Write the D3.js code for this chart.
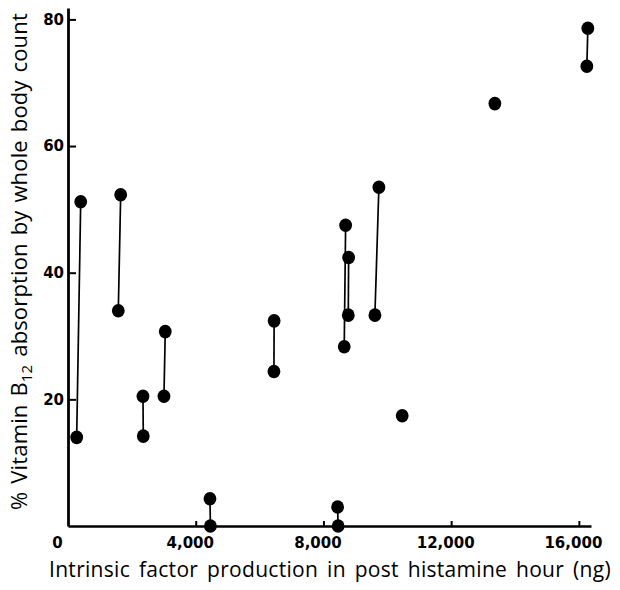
<!DOCTYPE html>
<html>
<head>
<meta charset="utf-8">
<script src="https://cdn.jsdelivr.net/npm/d3@7"></script>
<style>
  html, body { margin: 0; padding: 0; background: #fff; }
  svg { display: block; }
</style>
</head>
<body>
<svg id="chart" width="620" height="590"></svg>
<script>
// Paired measurements (upper and lower value for each subject)
const upperX = [398, 1650, 2348, 3046, 4446, 6456, 8444, 8695, 8789, 9737, 16281];
const upperY = [51.2, 52.3, 20.5, 30.7, 4.3, 32.4, 3.0, 47.5, 42.4, 53.5, 78.6];
const lowerX = [272, 1575, 2358, 3005, 4460, 6450, 8460, 8651, 8778, 9612, 16250];
const lowerY = [14.0, 34.0, 14.2, 20.5, 0, 24.4, 0, 28.3, 33.3, 33.3, 72.6];
// Single measurements
const singleX = [10467, 13369];
const singleY = [17.4, 66.7];
// Tick values
const xTicks = [0, 4000, 8000, 12000, 16000];
const yTicks = [20, 40, 60, 80];

const svg = d3.select("#chart");
const x = d3.scaleLinear().domain([0, 16380]).range([68, 591]);
const y = d3.scaleLinear().domain([0, 81.8]).range([526, 8]);

const tickFont = "'DejaVu Sans', sans-serif";
const titleFont = "'Open Sans', sans-serif";

// X axis
const xAxis = svg.append("g")
  .attr("transform", `translate(0,${y(0)})`)
  .call(d3.axisBottom(x).tickValues(xTicks).tickSize(-5).tickSizeOuter(0)
    .tickPadding(11).tickFormat(d3.format(",")));
xAxis.select(".domain").attr("stroke", "#000").attr("stroke-width", 2.6);
xAxis.selectAll(".tick line").attr("stroke", "#000").attr("stroke-width", 2)
  .filter(d => d === 0).remove();
xAxis.selectAll(".tick text")
  .attr("font-family", tickFont).attr("font-weight", "bold").attr("font-size", 15)
  .attr("fill", "#000")
  .attr("dx", d => d === 0 ? -11 : -6);

// Y axis
const yAxis = svg.append("g")
  .attr("transform", `translate(${x(0)},0)`)
  .call(d3.axisLeft(y).tickValues(yTicks).tickSize(-8).tickSizeOuter(0).tickPadding(4));
yAxis.select(".domain").attr("stroke", "#000").attr("stroke-width", 2.8);
yAxis.selectAll(".tick line").attr("stroke", "#000").attr("stroke-width", 2);
yAxis.selectAll(".tick text")
  .attr("font-family", tickFont).attr("font-weight", "bold").attr("font-size", 15)
  .attr("fill", "#000");

// Connecting lines for pairs
const pairIdx = d3.range(upperX.length);
svg.append("g").selectAll("line").data(pairIdx).join("line")
  .attr("x1", i => x(upperX[i])).attr("y1", i => y(upperY[i]))
  .attr("x2", i => x(lowerX[i])).attr("y2", i => y(lowerY[i]))
  .attr("stroke", "#000").attr("stroke-width", 1.7);

// Dots
const dots = [];
pairIdx.forEach(i => { dots.push([upperX[i], upperY[i]]); dots.push([lowerX[i], lowerY[i]]); });
singleX.forEach((v, i) => dots.push([v, singleY[i]]));
svg.append("g").selectAll("ellipse").data(dots).join("ellipse")
  .attr("cx", d => x(d[0])).attr("cy", d => y(d[1]))
  .attr("rx", 6.4).attr("ry", 6.8)
  .attr("fill", "#000");

// fit a text to a target length: share the slack between letters and word gaps
function fitText(sel, target, chars, spaces, letterShare) {
  const natural = sel.node().getComputedTextLength();
  const slack = Math.max(0, target - natural);
  sel.attr("letter-spacing", slack * letterShare / chars)
     .attr("word-spacing", slack * (1 - letterShare) / spaces);
}

// X title
const xTitle = "Intrinsic factor production in post histamine hour (ng)";
const xt = svg.append("text")
  .attr("x", 49).attr("y", 577)
  .attr("font-family", titleFont).attr("font-size", 21).attr("fill", "#000")
  .text(xTitle);
fitText(xt, 565, xTitle.length, 8, 0.4);

// Y title
const yt = svg.append("text")
  .attr("transform", "translate(27,510) rotate(-90)")
  .attr("font-family", titleFont).attr("font-size", 22).attr("fill", "#000");
yt.append("tspan").text("% Vitamin B");
yt.append("tspan").attr("font-size", 15).attr("dy", 5).text("12");
yt.append("tspan").attr("dy", -5).text(" absorption by whole body count");
fitText(yt, 497, 45, 7, 0.3);
</script>
</body>
</html>
